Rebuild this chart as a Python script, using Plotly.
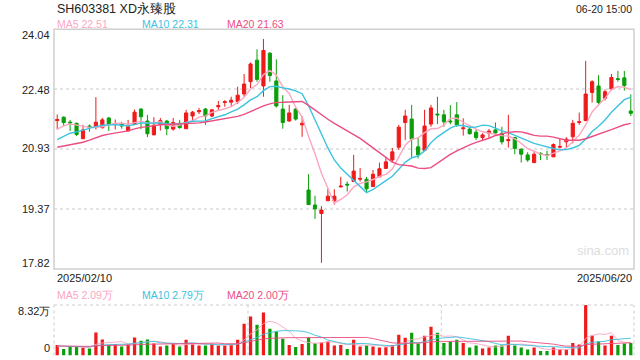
import plotly.graph_objects as go
import numpy as np

# ---------------- data ----------------
title_text = "SH603381 XD永臻股"
time_text = "06-20 15:00"
start_date = "2025/02/10"
end_date = "2025/06/20"

opens = [21.67, 21.76, 21.63, 21.60, 21.20, 21.53, 21.49, 21.49, 21.74, 21.57,
         21.58, 21.40, 21.57, 21.97, 21.66, 21.30, 21.57, 21.66, 21.45, 21.60,
         21.46, 21.79, 21.90, 21.97, 21.79, 22.03, 22.14, 22.15, 22.16, 22.36,
         22.68, 23.24, 22.57, 23.42, 22.70, 21.97, 21.66, 21.97, 21.56, 19.87,
         19.48, 19.26, 19.59, 19.59, 19.95, 20.02, 20.09, 20.15, 20.15, 19.96,
         20.21, 20.43, 20.65, 20.98, 21.62, 21.71, 20.99, 20.90, 21.58, 21.84,
         21.82, 21.66, 21.82, 21.46, 21.45, 21.37, 21.23, 21.34, 21.43, 21.34,
         21.15, 21.23, 20.93, 20.78, 20.58, 20.82, 20.79, 20.73, 20.98, 21.12,
         21.25, 21.62, 21.67, 22.40, 22.57, 22.25, 22.49, 22.76, 22.78, 21.92]
highs = [21.83, 21.78, 21.69, 21.62, 21.56, 21.57, 22.28, 21.74, 21.76, 21.70,
         21.64, 21.69, 21.96, 21.99, 21.82, 21.76, 21.74, 21.69, 21.74, 21.69,
         21.95, 21.92, 22.00, 22.00, 21.97, 22.18, 22.20, 22.29, 22.55, 22.88,
         23.18, 23.52, 23.79, 23.45, 23.26, 22.33, 22.08, 21.99, 21.79, 20.28,
         19.72, 19.45, 19.91, 19.89, 20.21, 20.09, 20.78, 20.44, 20.21, 20.39,
         20.58, 20.73, 20.96, 21.56, 21.95, 22.08, 21.23, 21.95, 22.08, 22.29,
         21.95, 22.07, 22.15, 21.73, 21.51, 21.45, 21.34, 21.45, 21.62, 21.51,
         21.82, 21.25, 20.95, 20.85, 20.85, 20.85, 20.89, 21.08, 21.21, 21.24,
         21.69, 21.88, 23.22, 22.72, 22.85, 22.48, 22.88, 22.96, 22.96, 22.35]
lows = [21.44, 21.53, 21.40, 21.27, 21.20, 21.38, 21.44, 21.46, 21.40, 21.44,
        21.46, 21.40, 21.56, 21.45, 21.24, 21.30, 21.41, 21.29, 21.41, 21.46,
        21.46, 21.69, 21.84, 21.56, 21.76, 21.95, 22.03, 22.05, 22.10, 22.29,
        22.51, 22.68, 22.29, 22.68, 22.01, 21.46, 21.64, 21.67, 21.25, 19.49,
        19.12, 17.98, 19.59, 19.49, 19.94, 19.83, 20.09, 20.09, 19.81, 19.96,
        20.21, 20.43, 20.58, 20.91, 21.17, 20.69, 20.69, 20.90, 21.51, 21.58,
        21.51, 21.58, 21.51, 21.28, 21.31, 21.17, 21.14, 21.21, 21.27, 21.05,
        20.97, 20.80, 20.58, 20.60, 20.58, 20.65, 20.65, 20.73, 20.95, 20.98,
        21.08, 21.56, 21.67, 22.14, 22.06, 22.19, 22.45, 22.68, 22.45, 21.79]
closes = [21.70, 21.62, 21.61, 21.31, 21.43, 21.50, 21.63, 21.69, 21.58, 21.59,
          21.53, 21.51, 21.89, 21.77, 21.33, 21.55, 21.67, 21.46, 21.62, 21.49,
          21.87, 21.89, 21.93, 21.79, 21.95, 22.06, 22.16, 22.20, 22.33, 22.62,
          23.14, 22.74, 23.49, 22.84, 22.05, 21.62, 21.87, 21.71, 21.60, 19.49,
          19.38, 19.35, 19.71, 19.71, 19.97, 20.00, 20.36, 20.17, 19.90, 20.28,
          20.42, 20.60, 20.86, 21.50, 21.79, 21.19, 20.78, 21.53, 22.00, 21.82,
          21.64, 21.64, 21.56, 21.48, 21.33, 21.23, 21.30, 21.40, 21.35, 21.12,
          21.18, 20.95, 20.80, 20.65, 20.80, 20.80, 20.77, 21.05, 21.00, 21.19,
          21.60, 21.64, 22.36, 22.68, 22.14, 22.42, 22.79, 22.74, 22.58, 21.86]
# volume in 万 shares
volumes = [1.75, 1.08, 1.47, 1.47, 1.30, 1.14, 3.80, 2.63, 1.75, 1.86,
           1.47, 1.80, 2.96, 2.41, 2.63, 1.97, 1.47, 1.64, 1.91, 1.47,
           2.58, 1.86, 1.64, 1.64, 1.86, 1.64, 1.64, 1.80, 2.58, 5.24,
           6.41, 5.08, 7.07, 4.41, 3.97, 2.75, 1.75, 1.41, 1.91, 2.96,
           2.02, 2.13, 2.30, 1.64, 1.75, 1.08, 2.58, 1.47, 1.64, 1.47,
           1.30, 1.36, 1.75, 3.41, 2.91, 3.74, 1.97, 3.24, 4.74, 3.74,
           2.08, 2.30, 2.58, 2.08, 1.30, 1.64, 1.14, 1.30, 1.64, 1.64,
           3.24, 1.64, 1.30, 0.97, 1.30, 0.75, 0.75, 1.30, 0.97, 0.97,
           2.08, 1.80, 8.32, 3.30, 2.30, 1.64, 3.24, 1.75, 1.97, 2.08]
# estimated sessions before the window (only used to start the moving averages)
pre_closes = [21.0, 21.0, 20.9, 20.5, 20.4, 20.4, 20.5, 20.9, 21.1, 21.1,
              20.75, 20.85, 20.95, 20.95, 21.05, 21.20, 21.35, 21.45, 21.55]
pre_volumes = [1.6, 1.7, 1.5, 1.4, 1.8, 1.6, 1.5, 1.7, 1.6, 1.5,
               1.6, 1.8, 1.4, 1.5, 1.6, 1.5, 1.4, 1.6, 1.5]

price_ticks = [24.04, 22.48, 20.93, 19.37, 17.82]
vol_ticks = ["8.32万", "0"]
vol_max = 8.32
ma_periods = [5, 10, 20]
ma_price_text = ["MA5 22.51", "MA10 22.31", "MA20 21.63"]
ma_vol_text = ["MA5 2.09万", "MA10 2.79万", "MA20 2.00万"]

# ---------------- styles ----------------
RED = "#f01a1a"
GREEN = "#0a9e0a"
MA_COLORS = ["#fca6c2", "#3cc3e0", "#ec4e82"]
FONT = "Liberation Sans, Arial, sans-serif"
W, H = 640, 360
L, R = 54, 634
MAIN_T, MAIN_B = 29.3, 269
VOL_T, VOL_B = 305, 355.5


def px(x):
    return x / W


def py(y):
    return 1 - y / H


def moving_avg(pre, vals, n):
    arr = np.array(pre + vals, dtype=float)
    out = np.convolve(arr, np.ones(n) / n, mode="valid")
    return out[-len(vals):]


idx = list(range(len(closes)))
fig = go.Figure()

fig.add_trace(go.Candlestick(
    x=idx, open=opens, high=highs, low=lows, close=closes,
    increasing=dict(line=dict(color=RED, width=1), fillcolor=RED),
    decreasing=dict(line=dict(color=GREEN, width=1), fillcolor=GREEN),
    whiskerwidth=0, xaxis="x", yaxis="y", showlegend=False, hoverinfo="skip"))

for n, c in zip(ma_periods, MA_COLORS):
    fig.add_trace(go.Scatter(x=idx, y=moving_avg(pre_closes, closes, n), mode="lines",
                             line=dict(color=c, width=1.4), xaxis="x", yaxis="y",
                             showlegend=False, hoverinfo="skip"))

bar_colors = [RED if c >= o else GREEN for o, c in zip(opens, closes)]
fig.add_trace(go.Bar(x=idx, y=volumes, marker=dict(color=bar_colors, line=dict(width=0)),
                     width=0.5, xaxis="x2", yaxis="y2", showlegend=False, hoverinfo="skip"))
for n, c in zip(ma_periods, MA_COLORS):
    fig.add_trace(go.Scatter(x=idx, y=moving_avg(pre_volumes, volumes, n), mode="lines",
                             line=dict(color=c, width=1), opacity=0.9, xaxis="x2", yaxis="y2",
                             showlegend=False, hoverinfo="skip"))

xr = [-0.5, len(idx) - 0.5]
fig.update_layout(
    width=W, height=H, margin=dict(l=0, r=0, t=0, b=0),
    paper_bgcolor="white", plot_bgcolor="white",
    font=dict(family=FONT, size=11, color="#333"),
    xaxis=dict(domain=[px(L), px(R)], range=xr, visible=False, rangeslider=dict(visible=False)),
    xaxis2=dict(domain=[px(L), px(R)], range=xr, visible=False, anchor="y2",
                showgrid=False),
    yaxis=dict(domain=[py(MAIN_B), py(MAIN_T)], range=[price_ticks[-1], price_ticks[0]],
               tickvals=price_ticks[1:-1], showticklabels=False, showgrid=True,
               gridcolor="#e3e3e3", gridwidth=2, griddash="dot", zeroline=False),
    yaxis2=dict(domain=[py(VOL_B), py(VOL_T)], range=[0, vol_max], showticklabels=False,
                showgrid=False, zeroline=False, anchor="x2"),
    bargap=0.4,
)

shapes = [
    dict(type="rect", xref="paper", yref="paper", x0=px(L), x1=px(R), y0=py(MAIN_B), y1=py(MAIN_T),
         line=dict(color="#cfcfcf", width=1.5)),
    dict(type="line", xref="paper", yref="paper", x0=px(L), x1=px(R), y0=py(VOL_T), y1=py(VOL_T),
         line=dict(color="#cccccc", width=1, dash="dot")),
    dict(type="line", xref="paper", yref="paper", x0=px(L), x1=px(L), y0=py(VOL_B), y1=py(VOL_T),
         line=dict(color="#cccccc", width=1, dash="dot")),
    dict(type="line", xref="paper", yref="paper", x0=px(R), x1=px(R), y0=py(VOL_B), y1=py(VOL_T),
         line=dict(color="#cccccc", width=1, dash="dot")),
]
for xv in [29.6, 59.6]:
    shapes.append(dict(type="line", xref="x2", yref="paper", x0=xv, x1=xv, y0=py(VOL_B), y1=py(VOL_T),
                       line=dict(color="#cccccc", width=1, dash="dot")))
fig.update_layout(shapes=shapes)

ann = []


def add_text(text, x, y, anchor="left", size=11, color="#333"):
    ann.append(dict(text=text, x=px(x), y=py(y), xref="paper", yref="paper", xanchor=anchor,
                    yanchor="middle", showarrow=False, font=dict(size=size, color=color, family=FONT)))


add_text(title_text, 55, 8, size=12.5, color="#222")
add_text(time_text, 634, 9, anchor="right", size=10.5, color="#222")
for t, c, x in zip(ma_price_text, MA_COLORS, [55, 140, 225]):
    add_text(t, x, 24, size=10.5, color=c)
for v, y in zip(price_ticks, [35, 89.5, 148, 209, 263]):
    add_text(f"{v:.2f}", 52, y, anchor="right", size=11, color="#222")
add_text(start_date, 55, 278, size=11, color="#222")
add_text(end_date, 634, 278, anchor="right", size=11, color="#222")
for t, c, x in zip(ma_vol_text, MA_COLORS, [55, 140, 225]):
    add_text(t, x, 295, size=10.5, color=c)
add_text(vol_ticks[0], 52, 311, anchor="right", size=11, color="#222")
add_text(vol_ticks[1], 52, 348, anchor="right", size=11, color="#222")
add_text("sina.com", 603, 250, anchor="center", size=13, color="#dddddd")
fig.update_layout(annotations=ann)

fig.write_html("out.html")
